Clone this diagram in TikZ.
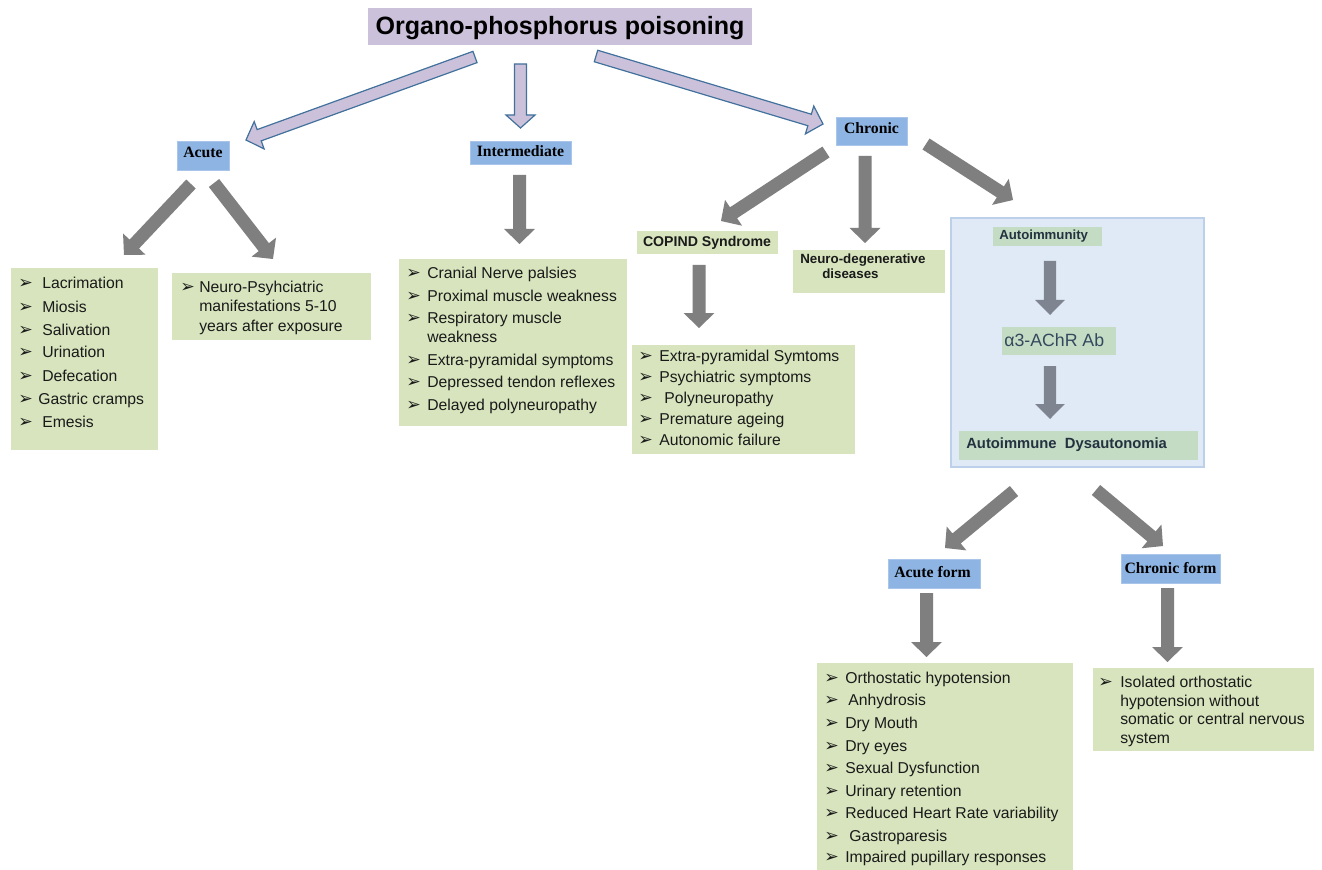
\documentclass[tikz,border=0pt]{standalone}
\usepackage{fontspec}
\setmainfont{Liberation Sans}
\newfontfamily\tnr{Liberation Serif}
\newfontfamily\dvs{DejaVu Sans}
\usetikzlibrary{calc,fit}
\definecolor{lav}{HTML}{CCC1DA}
\definecolor{lavline}{HTML}{41719C}
\definecolor{lblue}{HTML}{8DB4E2}
\definecolor{lblueln}{HTML}{A9C6EA}
\definecolor{lgreen}{HTML}{D7E4BD}
\definecolor{boxbg}{HTML}{DFEAF6}
\definecolor{boxln}{HTML}{BCD0EA}
\definecolor{ingreen}{HTML}{C4DBC4}
\definecolor{arrgray}{HTML}{7F7F7F}
\definecolor{arrslate}{HTML}{7E8590}
\definecolor{txt}{HTML}{1A1A1A}
\definecolor{slate}{HTML}{34495E}
\definecolor{darktxt}{HTML}{243240}
% block arrow: #1 style, #2 tail coord, #3 tip coord, #4 half shaft, #5 half head, #6 head length
\newcommand\barr[6]{%
 \coordinate (#3-hb) at ($(#3)!#6!(#2)$);
 \path[#1] ($(#2)!#4!90:(#3)$) -- ($(#3-hb)!#4!-90:(#2)$) -- ($(#3-hb)!#5!-90:(#2)$) -- (#3)
   -- ($(#3-hb)!#5!90:(#2)$) -- ($(#3-hb)!#4!90:(#2)$) -- ($(#2)!#4!-90:(#3)$) -- cycle;}
% bullet item: #1 name, #2 bullet x, #3 text x, #4 baseline y, #5 text
\newcommand\itm[5]{\node[bul] (#1b) at (#2,#4) {➢}; \node[lst] (#1) at (#3,#4) {#5};}
\begin{document}
\begin{tikzpicture}[x=0.75pt,y=-0.75pt,
  lst/.style={anchor=base west, inner sep=0pt, font=\fontsize{11.8}{14}\selectfont, text=txt},
  bul/.style={anchor=base west, inner sep=0pt, font=\dvs\fontsize{13}{15}\selectfont, text=txt},
  blab/.style={anchor=base, inner sep=0pt, font=\tnr\bfseries\fontsize{11.8}{14}\selectfont, text=black},
  ttl/.style={anchor=base, inner sep=0pt, font=\bfseries\fontsize{18.8}{22}\selectfont, text=black},
  tbox/.style={fill=lav, inner sep=0pt},
  gbox/.style={fill=lgreen, inner sep=0pt},
  bbox/.style={fill=lblue, draw=lblueln, line width=0.6pt, inner sep=0pt},
  ibox/.style={fill=ingreen, inner sep=0pt},
  bigbox/.style={fill=boxbg, draw=boxln, line width=1pt, inner sep=0pt},
  garr/.style={fill=arrgray},
  sarr/.style={fill=arrslate},
  larr/.style={fill=lav, draw=lavline, line width=0.9pt, line join=miter}]
\fill[white] (0,0) rectangle (1322,870);
\useasboundingbox (0,0) rectangle (1322,870);

% ---- title
\node[tbox, fit={(368,8)(752,45)}] (title) {};
\node[ttl] (titlet) at (560,35) {Organo-phosphorus poisoning};

% ---- level 1 labels
\node[bbox, fit={(177,141)(229,170)}] (acute) {};
\node[blab] (acutet) at (203,158) {Acute};
\node[bbox, fit={(470,141)(571,164)}] (inter) {};
\node[blab] (intert) at (520.5,157) {Intermediate};
\node[bbox, fit={(836,117)(907,145)}] (chronic) {};
\node[blab] (chronict) at (871.5,134) {Chronic};

% ---- lavender arrows
\coordinate (a1s) at (475,57);   \coordinate (a1e) at (246,140);
\coordinate (a2s) at (520.5,64); \coordinate (a2e) at (520.5,128);
\coordinate (a3s) at (596,56);   \coordinate (a3e) at (823,124);
\barr{larr}{a1s}{a1e}{4.5pt}{10.9pt}{10.5pt}
\barr{larr}{a2s}{a2e}{4.5pt}{10.9pt}{9.75pt}
\barr{larr}{a3s}{a3e}{4.5pt}{10.9pt}{10.5pt}

% ---- Acute branch
\node[gbox, fit={(11,268)(158,450)}] (acl) {};
\itm{acl1}{18}{42}{289}{Lacrimation}
\itm{acl2}{18}{42}{312}{Miosis}
\itm{acl3}{18}{42}{335}{Salivation}
\itm{acl4}{18}{42}{358}{Urination}
\itm{acl5}{18}{42}{381}{Defecation}
\itm{acl6}{18}{38}{404}{Gastric cramps}
\itm{acl7}{18}{42}{427}{Emesis}

\node[gbox, fit={(172,273)(371,340)}] (npl) {};
\itm{npl1}{180}{199}{292}{Neuro-Psyhciatric}
\node[lst] (npl2) at (199,311.5) {manifestations 5-10};
\node[lst] (npl3) at (199,331) {years after exposure};

\coordinate (g1s) at (191,184); \coordinate (g1e) at (124,255);
\coordinate (g2s) at (214,183); \coordinate (g2e) at (273,259);
\barr{garr}{g1s}{g1e}{4.875pt}{11.6pt}{11.25pt}
\barr{garr}{g2s}{g2e}{4.875pt}{11.6pt}{11.25pt}

% ---- Intermediate branch
\coordinate (g3s) at (519.5,175); \coordinate (g3e) at (519.5,244);
\barr{garr}{g3s}{g3e}{4.875pt}{11.6pt}{11.25pt}
\node[gbox, fit={(399,259)(627,426)}] (inl) {};
\itm{inl1}{406}{427}{278}{Cranial Nerve palsies}
\itm{inl2}{406}{427}{301}{Proximal muscle weakness}
\itm{inl3}{406}{427}{323}{Respiratory muscle}
\node[lst] (inl3b) at (427,342) {weakness};
\itm{inl4}{406}{427}{365}{Extra-pyramidal symptoms}
\itm{inl5}{406}{427}{387}{Depressed tendon reflexes}
\itm{inl6}{406}{427}{410}{Delayed polyneuropathy}

% ---- Chronic branch
\coordinate (g4s) at (826,152);  \coordinate (g4e) at (721,221);
\coordinate (g5s) at (865,156);  \coordinate (g5e) at (865,243);
\coordinate (g6s) at (926,144);  \coordinate (g6e) at (1013,200);
\barr{garr}{g4s}{g4e}{4.875pt}{11.6pt}{11.25pt}
\barr{garr}{g5s}{g5e}{4.875pt}{11.6pt}{11.25pt}
\barr{garr}{g6s}{g6e}{4.875pt}{11.6pt}{11.25pt}

\node[gbox, fit={(637,231)(778,254)}] (copind) {};
\node[anchor=base, inner sep=0pt, font=\bfseries\fontsize{10.6}{13}\selectfont, text=txt] (copindt) at (707,247) {COPIND Syndrome};
\coordinate (g7s) at (699,265); \coordinate (g7e) at (699,328);
\barr{garr}{g7s}{g7e}{4.875pt}{11.6pt}{11.25pt}
\node[gbox, fit={(632,345)(855,454)}] (cpl) {};
\itm{cpl1}{638}{659}{361}{Extra-pyramidal Symtoms}
\itm{cpl2}{638}{659}{382}{Psychiatric symptoms}
\itm{cpl3}{638}{664}{403}{Polyneuropathy}
\itm{cpl4}{638}{659}{424}{Premature ageing}
\itm{cpl5}{638}{659}{445}{Autonomic failure}

\node[gbox, fit={(793,250)(945,293)}] (neurod) {};
\node[anchor=base west, inner sep=0pt, font=\bfseries\fontsize{10}{12}\selectfont, text=txt] (neurod1) at (800,264) {Neuro-degenerative};
\node[anchor=base west, inner sep=0pt, font=\bfseries\fontsize{10}{12}\selectfont, text=txt] (neurod2) at (822,278) {diseases};

% ---- Autoimmunity panel
\node[bigbox, fit={(951,218)(1204,467)}] (panel) {};
\node[ibox, fit={(993,227)(1102,246)}] (autoim) {};
\node[anchor=base west, inner sep=0pt, font=\bfseries\fontsize{9.9}{12}\selectfont, text=darktxt] (autoimt) at (999,240) {Autoimmunity};
\coordinate (g8s) at (1050,261); \coordinate (g8e) at (1050,315);
\barr{sarr}{g8s}{g8e}{4.6pt}{11.2pt}{11.25pt}
\node[ibox, fit={(1002,327)(1116,355)}] (ab) {};
\node[anchor=base west, inner sep=0pt, font=\fontsize{13.3}{16}\selectfont, text=slate] (abt) at (1004,346) {α3-AChR Ab};
\coordinate (g9s) at (1050,366); \coordinate (g9e) at (1050,419);
\barr{sarr}{g9s}{g9e}{4.6pt}{11.2pt}{11.25pt}
\node[ibox, fit={(959,431)(1198,460)}] (dys) {};
\node[anchor=base west, inner sep=0pt, font=\bfseries\fontsize{11.1}{13}\selectfont, text=darktxt] (dyst) at (966,448) {Autoimmune\ \ Dysautonomia};

% ---- forms
\coordinate (g10s) at (1014,491); \coordinate (g10e) at (945,548);
\coordinate (g11s) at (1096,490); \coordinate (g11e) at (1163,546);
\barr{garr}{g10s}{g10e}{4.875pt}{11.6pt}{11.25pt}
\barr{garr}{g11s}{g11e}{4.875pt}{11.6pt}{11.25pt}

\node[bbox, fit={(888,559)(980,588)}] (aform) {};
\node[blab] (aformt) at (932.5,577) {Acute form};
\node[bbox, fit={(1121,554)(1220,583)}] (cform) {};
\node[blab] (cformt) at (1170.5,573) {Chronic form};

\coordinate (g12s) at (926.5,593);  \coordinate (g12e) at (926.5,657);
\coordinate (g13s) at (1167.5,588); \coordinate (g13e) at (1167.5,662);
\barr{garr}{g12s}{g12e}{4.875pt}{11.6pt}{11.25pt}
\barr{garr}{g13s}{g13e}{4.875pt}{11.6pt}{11.25pt}

\node[gbox, fit={(817,663)(1073,870)}] (afl) {};
\itm{afl1}{824}{845}{683}{Orthostatic hypotension}
\itm{afl2}{824}{848}{705.5}{Anhydrosis}
\itm{afl3}{824}{845}{728}{Dry Mouth}
\itm{afl4}{824}{845}{751}{Dry eyes}
\itm{afl5}{824}{845}{773}{Sexual Dysfunction}
\itm{afl6}{824}{845}{796}{Urinary retention}
\itm{afl7}{824}{845}{818}{Reduced Heart Rate variability}
\itm{afl8}{824}{849}{841}{Gastroparesis}
\itm{afl9}{824}{845}{862}{Impaired pupillary responses}

\node[gbox, fit={(1093,668)(1314,751)}] (cfl) {};
\itm{cfl1}{1098}{1120}{687}{Isolated orthostatic}
\node[lst] (cfl2) at (1120,706) {hypotension without};
\node[lst] (cfl3) at (1120,724) {somatic or central nervous};
\node[lst] (cfl4) at (1120,743) {system};
\end{tikzpicture}
\end{document}
